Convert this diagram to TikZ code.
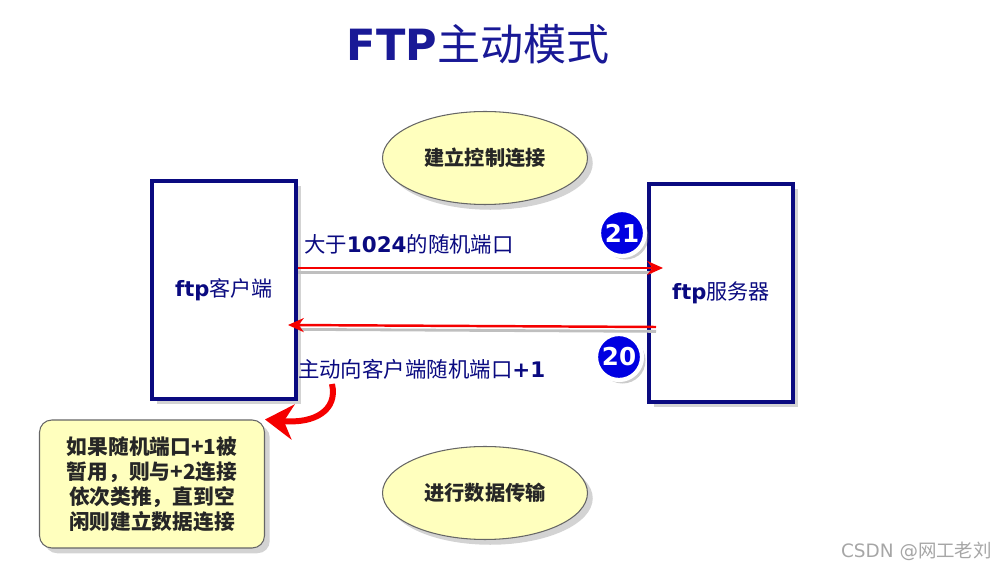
\documentclass[tikz,border=0pt]{standalone}
\usepackage{fontspec}
\setmainfont{DejaVu Sans}
\newfontfamily\cjk{Noto Sans CJK SC}
\usetikzlibrary{shapes.geometric, arrows.meta, positioning, calc, shadows}
\definecolor{navy}{RGB}{10,10,128}
\definecolor{inkblue}{RGB}{25,25,150}
\definecolor{portblue}{RGB}{0,0,225}
\definecolor{cream}{RGB}{255,255,190}
\definecolor{hot}{RGB}{245,0,0}
\newcommand{\lat}[1]{{\bfseries #1}}
\begin{document}
\begin{tikzpicture}[x=0.02cm, y=-0.02cm,
      host/.style={rectangle, draw=navy, line width=2.2pt, fill=white,
                   minimum width=2.88cm, minimum height=4.36cm,
                   drop shadow={opacity=0.35, shadow xshift=3pt, shadow yshift=-3pt},
                   font=\fontsize{12}{14}\selectfont, text=navy},
      phase/.style={ellipse, draw=black!60, line width=0.6pt, fill=cream,
                    minimum width=4.1cm, minimum height=1.86cm,
                    drop shadow={opacity=0.35, shadow xshift=3pt, shadow yshift=-3pt},
                    font=\fontsize{11.5}{13}\selectfont\cjk\bfseries, text=black!85},
      port/.style={circle, draw=white, line width=2.4pt, fill=portblue,
                   minimum size=0.92cm, inner sep=0pt,
                   drop shadow={opacity=0.4, shadow xshift=2pt, shadow yshift=-2pt},
                   font=\fontsize{14}{14}\selectfont\bfseries, text=white},
      note/.style={rectangle, rounded corners=7pt, draw=black!60, line width=0.6pt,
                   fill=cream, minimum width=4.5cm, minimum height=2.56cm,
                   drop shadow={opacity=0.35, shadow xshift=3pt, shadow yshift=-3pt},
                   align=center, font=\fontsize{11.8}{14.2}\selectfont\cjk\bfseries, text=black!85},
      lbl/.style={font=\fontsize{12.2}{14}\selectfont, text=navy, inner sep=1pt},
      arr/.style={-{Stealth[length=9pt, width=8pt]}, draw=hot, line width=1.4pt},
      shade/.style={draw=black!25, line width=1.6pt}
    ]
    \useasboundingbox (0,0) rectangle (1002,570);
    % title
    \node[font=\fontsize{24.5}{26}\selectfont, text=inkblue] (title) at (478,44)
      {\lat{FTP}{\cjk 主动模式}};
    % hosts
    \node[host] (client) at (224,290) {\lat{ftp}{\cjk 客户端}};
    \node[host] (server) at (721,293) {\lat{ftp}{\cjk 服务器}};
    % phases
    \node[phase] (ctrl) at (485,158) {建立控制连接};
    \node[phase] (data) at (485,493) {进行数据传输};
    % ports
    \node[port] (p21) at (622,233) {21};
    \node[port] (p20) at (619,357) {20};
    % connectors
    \coordinate (a1) at (663,268);
    \coordinate (a2s) at (656,327);
    \coordinate (a2e) at (288,325);
    \draw[shade] ([yshift=-2.5pt]client.east |- a1) -- ([yshift=-2.5pt,xshift=-6pt]a1);
    \draw[shade] ([yshift=-2.5pt]a2s) -- ([yshift=-2.5pt,xshift=6pt]a2e);
    \draw[arr] (client.east |- a1) -- (a1);
    \draw[arr] (a2s) -- (a2e);
    \node[lbl, anchor=west] (up) at (302,244) {{\cjk 大于}\lat{1024}{\cjk 的随机端口}};
    \node[lbl, anchor=west] (down) at (296,369) {{\cjk 主动向客户端随机端口}\lat{+1}};
    % note
    \node[note] (busy) at (152,484)
      {如果随机端口+1被\\暂用，则与+2连接\\依次类推，直到空\\闲则建立数据连接};
    \coordinate (b0) at (332,384);
    \draw[-{Stealth[length=16pt, width=20pt]}, draw=hot, line width=3.4pt]
      (b0) .. controls (338,410) and (315,424) .. (busy.north east);
    % watermark
    \node[font=\fontsize{10.5}{12}\selectfont, text=black!35, anchor=east] (mark) at (998,551)
      {CSDN @{\cjk 网工老刘}};
  \end{tikzpicture}
\end{document}
